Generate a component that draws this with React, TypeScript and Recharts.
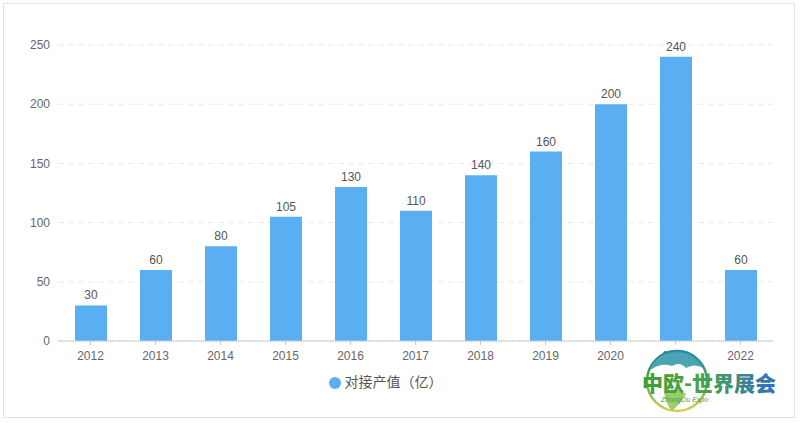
// Output value chart (对接产值) 2012-2022, bars with value labels

import {
  BarChart,
  Bar,
  XAxis,
  YAxis,
  CartesianGrid,
  Legend,
  LabelList
} from 'recharts';

const YEARS = ['2012', '2013', '2014', '2015', '2016', '2017', '2018', '2019', '2020', '2021', '2022'];
const OUTPUT_VALUES = [30, 60, 80, 105, 130, 110, 140, 160, 200, 240, 60];
const Y_TICKS = [0, 50, 100, 150, 200, 250];
const SERIES_NAME = '对接产值（亿）';

const BAR_COLOR = '#5aaef2';
const FONT = "'Liberation Sans', 'Noto Sans CJK SC', sans-serif";

const chartData = YEARS.map((year, i) => ({ year, value: OUTPUT_VALUES[i] }));

// logo stamp in the bottom right corner, it hides the 2021 tick label
function Watermark() {
  return (
    <svg
      width={160}
      height={75}
      style={{ position: 'absolute', left: 636, top: 346 }}
    >
      <defs>
        <linearGradient id="wmText" x1="0" y1="0" x2="1" y2="0">
          <stop offset="0%" stopColor="#3f9e3a" />
          <stop offset="45%" stopColor="#4aa34a" />
          <stop offset="100%" stopColor="#2f6fc4" />
        </linearGradient>
        <linearGradient id="wmGlobe" x1="0" y1="0" x2="0" y2="1">
          <stop offset="0%" stopColor="#1f86a8" />
          <stop offset="50%" stopColor="#4fae4a" />
          <stop offset="100%" stopColor="#d8cf5a" />
        </linearGradient>
      </defs>
      <circle cx={41} cy={35} r={30} fill="#ffffff" stroke="url(#wmGlobe)" strokeWidth={2.5} />
      <path d="M14 24 Q22 8 41 5 Q60 7 68 22 Q58 17 50 22 Q44 15 36 20 Q26 16 14 24 Z" fill="#2e93a8" opacity={0.85} />
      <path d="M28 46 Q40 40 50 48 Q44 58 36 65 Q30 58 28 46 Z" fill="#8cc24a" opacity={0.85} />
      <text
        x={6}
        y={45}
        fontFamily="'Noto Sans CJK SC', sans-serif"
        fontWeight={900}
        fontSize={21}
        fill="url(#wmText)"
      >
        中欧-世界展会
      </text>
      <text
        x={25}
        y={56}
        fontFamily={FONT}
        fontStyle="italic"
        fontSize={7}
        fill="#4f9a4a"
      >
        ZhongOu Expo
      </text>
    </svg>
  );
}

export default function App() {
  return (
    <div
      style={{
        position: 'fixed',
        left: 0,
        top: 0,
        width: 800,
        height: 423,
        background: '#ffffff',
        fontFamily: FONT
      }}
    >
      <div
        style={{
          position: 'absolute',
          left: 3,
          top: 3,
          width: 790,
          height: 413,
          border: '1.5px solid #e3e3e3'
        }}
      />
      <BarChart
        width={800}
        height={423}
        data={chartData}
        margin={{ top: 45, right: 27, left: 8, bottom: 16 }}
        barCategoryGap={0}
      >
        <CartesianGrid vertical={false} stroke="#ebebeb" strokeDasharray="6 4" />
        <XAxis
          dataKey="year"
          height={30}
          tick={{ fontSize: 12, fill: '#666', fontFamily: FONT }}
          tickLine={{ stroke: '#c8c9d0' }}
          tickSize={4}
          tickMargin={6}
          axisLine={{ stroke: '#c8c9d0' }}
          interval={0}
        />
        <YAxis
          width={50}
          domain={[0, 250]}
          ticks={Y_TICKS}
          tick={{ fontSize: 12, fill: '#666', fontFamily: FONT }}
          axisLine={false}
          tickLine={false}
        />
        <Legend
          verticalAlign="bottom"
          iconType="circle"
          iconSize={12}
          height={36}
          formatter={(v) => (
            <span style={{ color: '#555', fontSize: 14, fontFamily: FONT }}>{v}</span>
          )}
        />
        <Bar
          dataKey="value"
          name={SERIES_NAME}
          fill={BAR_COLOR}
          barSize={32}
          isAnimationActive={false}
        >
          <LabelList
            dataKey="value"
            position="top"
            offset={6}
            style={{ fontSize: 12, fill: '#555', fontFamily: FONT }}
          />
        </Bar>
      </BarChart>
      <Watermark />
    </div>
  );
}
